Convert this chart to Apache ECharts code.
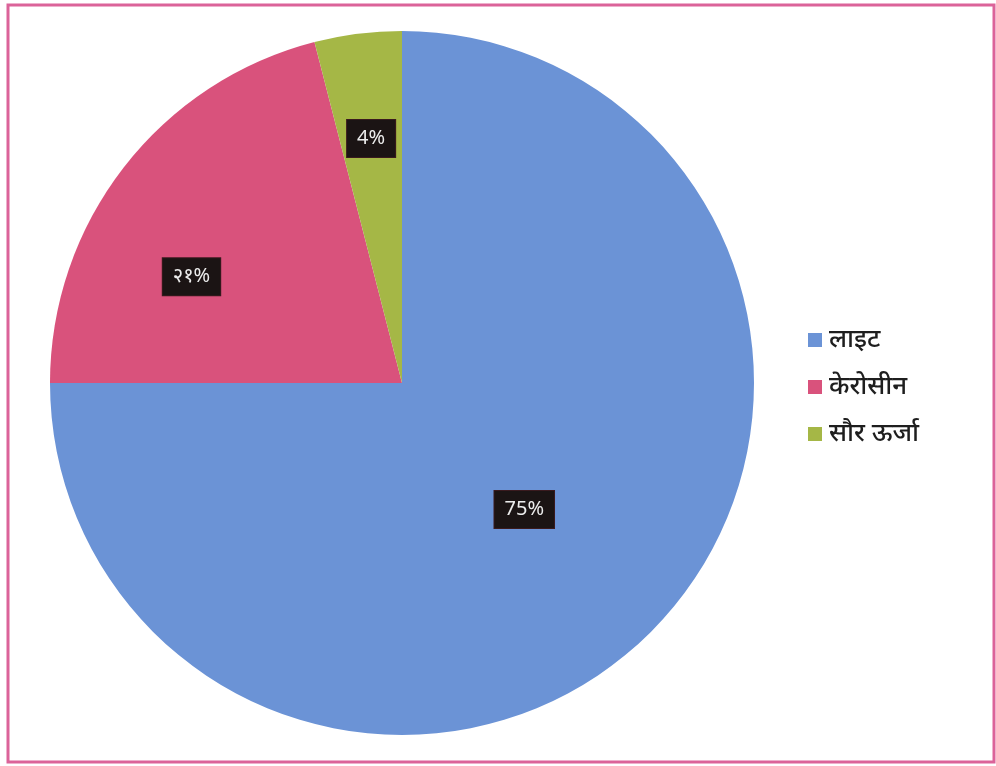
<!DOCTYPE html>
<html>
<head>
<meta charset="utf-8">
<script src="https://cdn.jsdelivr.net/npm/echarts@6/dist/echarts.min.js"></script>
<style>
  html, body { margin: 0; padding: 0; background: #ffffff; }
  #chart { width: 996px; height: 766px; }
</style>
</head>
<body>
<div id="chart"></div>
<script>
// Share of lighting sources
const categories = ['लाइट', 'केरोसीन', 'सौर ऊर्जा'];
const shares = [75, 21, 4];
const labelTexts = ['75%', '२१%', '4%'];
const sliceColors = ['#6b93d6', '#d9527c', '#a5b746'];

// where each value label sits inside its slice: fraction of radius, angular nudge (deg)
const labelSpots = [
  { f: 0.50, da: 1 },
  { f: 0.67, da: -11 },
  { f: 0.70, da: 0 }
];

const CX = 402, CY = 383, R = 352;

const chart = echarts.init(document.getElementById('chart'), null, { renderer: 'canvas' });

const total = shares.reduce((a, b) => a + b, 0);
const midAngles = [];
let acc = 0;
shares.forEach(v => { midAngles.push((acc + v / 2) / total * 360); acc += v; });

chart.setOption({
  animation: false,
  color: sliceColors,
  graphic: [{
    type: 'rect',
    shape: { x: 8, y: 5, width: 986, height: 757 },
    style: { fill: 'none', stroke: '#db6399', lineWidth: 3 },
    silent: true
  }],
  legend: {
    orient: 'vertical',
    left: 803,
    top: 318,
    itemWidth: 14,
    itemHeight: 14,
    itemGap: 13,
    icon: 'rect',
    textStyle: {
      fontFamily: '"Noto Sans", "Noto Sans Devanagari", sans-serif',
      fontSize: 26,
      fontWeight: 500,
      lineHeight: 34,
      color: '#1e1e1e',
      padding: [0, 0, 0, 2]
    },
    data: categories
  },
  series: [{
    type: 'pie',
    center: [CX, CY],
    radius: [0, R],
    startAngle: 90,
    clockwise: true,
    silent: true,
    data: categories.map((name, i) => ({ name, value: shares[i] })),
    label: {
      show: true,
      position: 'inside',
      formatter: p => labelTexts[p.dataIndex],
      color: '#ececec',
      fontFamily: '"Noto Sans", "Liberation Sans", sans-serif',
      fontSize: 20,
      backgroundColor: '#1b1414',
      padding: [9, 10, 8, 10],
      borderColor: '#3a1a1e',
      borderWidth: 1
    },
    labelLine: { show: false },
    labelLayout: p => {
      const s = labelSpots[p.dataIndex];
      const a = (midAngles[p.dataIndex] + s.da) * Math.PI / 180;
      return {
        x: CX + Math.sin(a) * R * s.f,
        y: CY - Math.cos(a) * R * s.f
      };
    },
    itemStyle: { borderWidth: 0 }
  }]
});
</script>
</body>
</html>
